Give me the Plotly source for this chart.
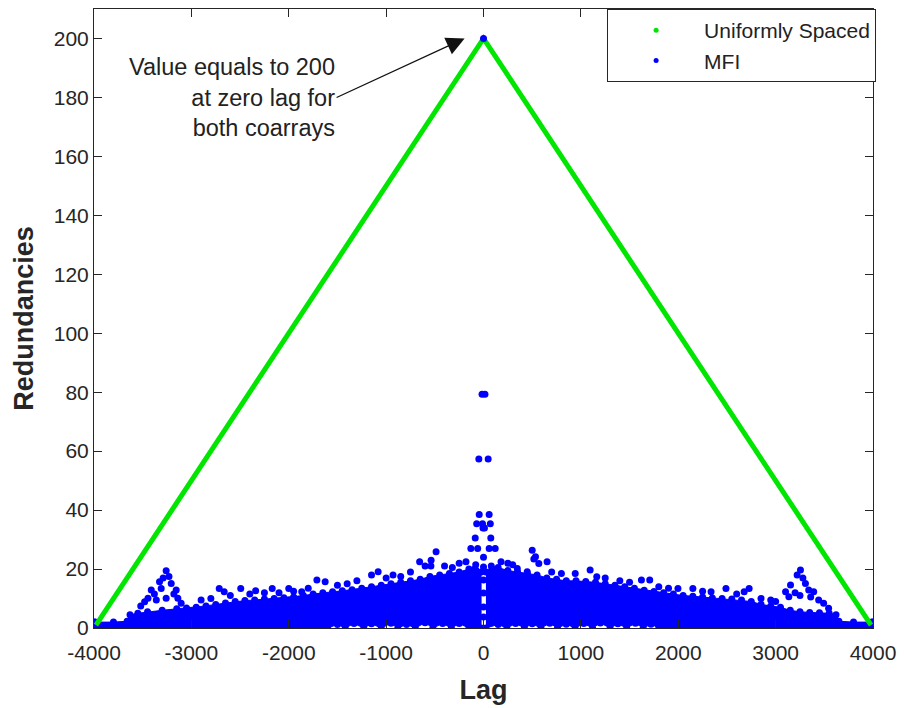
import plotly.graph_objects as go

# ---------------- data ----------------
# Uniformly spaced coarray (triangle vertices)
uni_lag = [-3980, 0, 3980]
uni_red = [1, 200, 1]

# MFI coarray: dense band, upper envelope (left and right of zero lag)
band_left_lag = [-4000, -3990, -3800, -3660, -3630, -3550, -3450, -3300, -3150, -3050, -2950, -2850,
                 -2750, -2650, -2550, -2450, -2350, -2250, -2150, -2050, -1950, -1850, -1750,
                 -1650, -1550, -1450, -1350, -1250, -1150, -1050, -950, -850, -750, -650, -550,
                 -450, -350, -250, -150, -80, -25]
band_left_top = [2.0, 2.0, 2.0, 2.3, 4.5, 5.0, 5.5, 6.0, 6.5, 6.8, 7.0, 7.5,
                 8.0, 8.5, 9.0, 9.3, 9.5, 9.8, 10.0, 10.3, 10.5, 11.0, 11.5,
                 12.0, 12.3, 12.6, 13.0, 13.5, 14.0, 14.5, 15.0, 15.5, 16.0, 16.5, 17.5,
                 18.0, 18.5, 19.0, 20.0, 21.5, 19.0]
band_left_bottom_lag = [-25, -150, -250, -330, -420, -520, -600, -700, -790, -880, -950, -1050,
                        -1150, -1230, -1330, -1420, -1500, -1600, -1680, -4000]
band_left_bottom = [0.0, 0.0, 1.5, 0.0, 1.5, 0.0, 1.8, 0.0, 1.2, 0.0, 1.6, 0.0,
                    1.4, 0.0, 1.5, 0.0, 1.2, 0.0, 0.0, 0.0]

band_right_lag = [25, 80, 150, 250, 350, 450, 550, 650, 750, 850, 950, 1050, 1150, 1250, 1350,
                  1450, 1550, 1650, 1750, 1850, 1950, 2050, 2150, 2250, 2350, 2450, 2550, 2650,
                  2750, 2850, 2950, 3050, 3150, 3250, 3350, 3450, 3550, 3620, 3650, 3800, 3990, 4000]
band_right_top = [19.0, 21.0, 20.5, 19.5, 19.0, 18.5, 18.0, 17.0, 16.5, 16.0, 16.0, 15.8, 15.5, 15.0, 14.5,
                  14.0, 13.5, 12.8, 12.4, 12.0, 11.5, 11.0, 10.8, 10.5, 10.2, 10.0, 9.8, 9.5,
                  9.0, 8.0, 7.5, 7.0, 6.0, 5.5, 5.3, 5.2, 5.0, 4.5, 2.3, 2.0, 2.0, 2.0]
band_right_bottom_lag = [4000, 1800, 1720, 1640, 1560, 1470, 1380, 1300, 1200, 1120, 1030, 940,
                         850, 760, 680, 590, 500, 420, 330, 240, 150, 25]
band_right_bottom = [0.0, 0.0, 1.3, 0.0, 1.6, 0.0, 1.4, 0.0, 1.7, 0.0, 1.5, 0.0,
                     1.3, 0.0, 1.6, 0.0, 1.4, 0.0, 1.5, 0.0, 1.2, 0.0]

# MFI coarray: individual points standing out of the dense band
mfi_lag = [0,
           -15, 15, -48, 48, -44, 58, -70, -10, 70, -5, 10, -85, 75, -130, -60, 58, 120,
           0, 0, 0, 0, 0, 0,
           -3259, -3327, -3207, -3412, -3310, -3156, -3446, -3360, -3259, -3139, -3480, -3105,
           -3230, -3290, -3380, -3520, -3180,
           -2714, -2663, -2493, -2340, -2170, -2000, -1867, -1711, -1626, -1150, -1082, -929,
           -656, -538, -487, -600, -540, -250, -180,
           -2900, -2800, -2600, -2400, -2250, -2100, -1950, -1800, -1500, -1400, -1300, -1000,
           -850, -750, -400, -320,
           500, 534, 568, 653, 347, 449, 517, 942, 1095, 1163, 1622, 1707, 1997, 2150, 2337,
           2490, 2677, 2728, 250, 180,
           300, 700, 800, 1250, 1400, 1500, 1800, 1900, 2250, 2600, 2850, 2950, 3000,
           3255, 3221, 3153, 3306, 3102, 3340, 3391, 3136, 3442, 3493, 3544,
           3280, 3200, 3360, 3250]
mfi_red = [200,
           79.3, 79.3, 57.3, 57.3, 38.5, 38.5, 35.4, 35.4, 35.4, 33.9, 33.9, 30.5, 30.5, 27, 27, 27, 27,
           20.7, 16.3, 11.9, 7.1, 3.7, 24,
           19.4, 15.7, 15.1, 12.9, 13.4, 12.9, 10.1, 9.5, 10.1, 10.1, 8.9, 8.4,
           17.5, 17.0, 11.5, 7.5, 11.5,
           13.4, 12.3, 13.4, 12.6, 13.4, 13.4, 12.3, 16.3, 15.7, 18.0, 19.1, 18.0,
           22.5, 23.0, 25.9, 21.0, 21.0, 22.0, 22.5,
           9.5, 10.0, 11.0, 11.5, 12.0, 12.0, 12.5, 13.5, 14.5, 15.0, 16.0, 17.0,
           17.5, 19.0, 21.0, 20.5,
           26.4, 24.2, 21.9, 22.5, 20.2, 19.1, 23.4, 18.5, 19.7, 17.4, 16.3, 16.3, 13.4, 13.4, 12.3,
           13.4, 12.3, 13.4, 22.0, 22.5,
           21.5, 19.0, 18.5, 17.0, 16.0, 15.5, 14.0, 13.5, 12.5, 11.5, 10.0, 9.5, 9.0,
           19.7, 18.0, 14.6, 15.1, 12.3, 12.9, 12.3, 10.6, 9.5, 8.4, 6.7,
           17.0, 12.0, 10.5, 11.0]

x_ticks = [-4000, -3000, -2000, -1000, 0, 1000, 2000, 3000, 4000]
y_ticks = [0, 20, 40, 60, 80, 100, 120, 140, 160, 180, 200]

# ---------------- figure ----------------
GREEN = "rgb(0,230,0)"
BLUE = "#0000ff"
AX = "#262626"
FONT = "Liberation Sans, Arial, Helvetica, sans-serif"

fig = go.Figure()

# dense MFI band (left, right)
for lag_top, top, lag_bot, bot in [
    (band_left_lag, band_left_top, band_left_bottom_lag, band_left_bottom),
    (band_right_lag, band_right_top, band_right_bottom_lag, band_right_bottom),
]:
    fig.add_trace(go.Scatter(
        x=lag_top + lag_bot, y=top + bot, mode="lines+markers", fill="toself",
        fillcolor=BLUE, line=dict(color=BLUE, width=1),
        marker=dict(color=BLUE, size=7), showlegend=False, hoverinfo="skip"))

# uniformly spaced coarray
fig.add_trace(go.Scatter(x=uni_lag, y=uni_red, mode="lines",
                         line=dict(color=GREEN, width=5), showlegend=False))

# MFI individual points
fig.add_trace(go.Scatter(x=mfi_lag, y=mfi_red, mode="markers",
                         marker=dict(color=BLUE, size=7), showlegend=False))

# legend entries
fig.add_trace(go.Scatter(x=[None], y=[None], mode="markers", name="Uniformly Spaced",
                         marker=dict(color=GREEN, size=5)))
fig.add_trace(go.Scatter(x=[None], y=[None], mode="markers", name="MFI",
                         marker=dict(color=BLUE, size=5)))

fig.add_annotation(
    x=-194, y=200, xref="x", yref="y", ax=-128, ay=59,
    text="Value equals to 200<br>at zero lag for<br>both coarrays",
    showarrow=True, arrowhead=2, arrowsize=2.8, arrowwidth=1.3, arrowcolor="#111",
    xanchor="right", yanchor="middle", align="right",
    font=dict(family=FONT, size=23.5, color="#222"))

fig.update_layout(
    width=904, height=708,
    margin=dict(l=94, r=26, t=8, b=80),
    paper_bgcolor="white", plot_bgcolor="white",
    font=dict(family=FONT, color=AX),
    legend=dict(x=1.004, y=1, xanchor="right", yanchor="top",
                bordercolor=AX, borderwidth=1, bgcolor="white",
                font=dict(family=FONT, size=21, color="#222"),
                itemwidth=86, tracegroupgap=0),
)
fig.update_xaxes(range=[-4000, 4000], tickvals=x_ticks, ticktext=[str(v) for v in x_ticks],
                 showgrid=False, zeroline=False, showline=True, linecolor=AX, linewidth=1,
                 mirror="ticks", ticks="inside", ticklen=8, tickcolor=AX,
                 ticklabelstandoff=6,
                 tickfont=dict(size=21, color=AX),
                 title=dict(text="<b>Lag</b>", font=dict(size=27, color=AX), standoff=16))
fig.update_yaxes(range=[0, 210], tickvals=y_ticks, ticktext=[str(v) for v in y_ticks],
                 showgrid=False, zeroline=False, showline=True, linecolor=AX, linewidth=1,
                 mirror="ticks", ticks="inside", ticklen=8, tickcolor=AX,
                 tickfont=dict(size=21, color=AX),
                 title=dict(text="<b>Redundancies</b>", font=dict(size=27, color=AX), standoff=12))

fig.write_html("out.html")
